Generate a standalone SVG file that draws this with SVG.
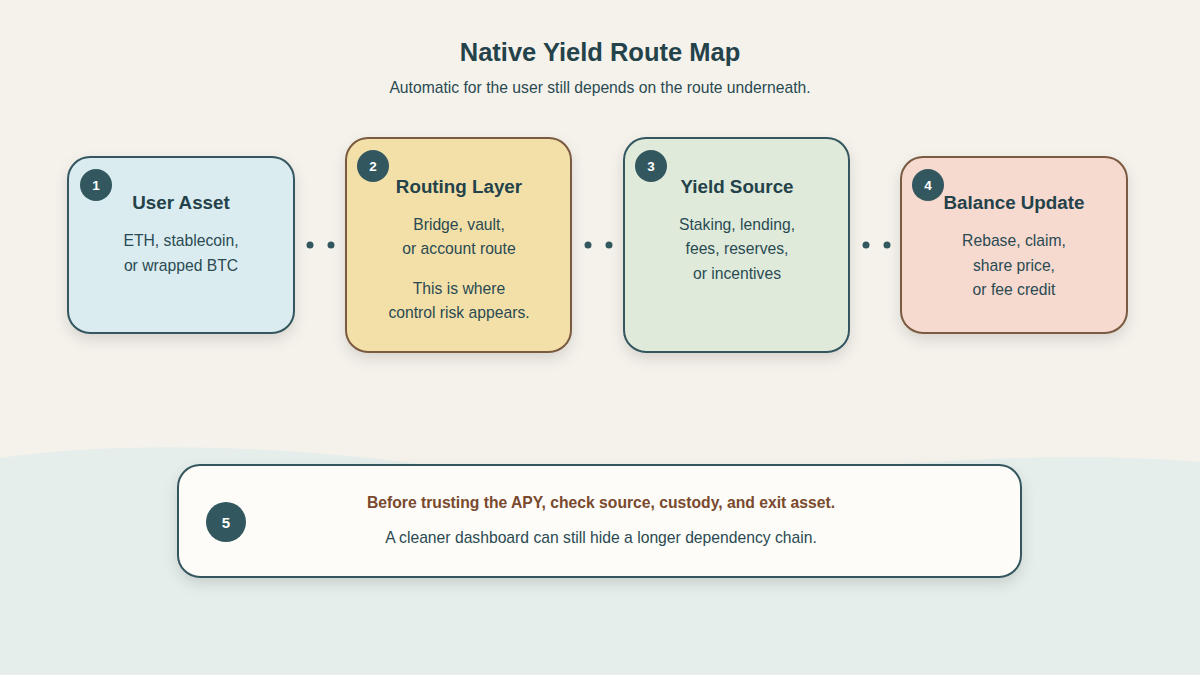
<svg xmlns="http://www.w3.org/2000/svg" width="1200" height="675" viewBox="0 0 1200 675">
<defs>
<filter id="sh" x="-20%" y="-20%" width="140%" height="150%"><feDropShadow dx="0" dy="6" stdDeviation="7" flood-color="#000" flood-opacity="0.12"/></filter>
<style>
text{font-family:"Liberation Sans",Arial,sans-serif;text-anchor:middle;fill:#2a4a52}
.t{font-size:18.8px;font-weight:bold;fill:#24424a}
.b{font-size:15.7px}
.n{font-size:13.5px;font-weight:bold;fill:#fff}
.box{stroke-width:2}
.bd{fill:#33575f}
.dot{fill:#33575f}
</style>
</defs>
<rect width="1200" height="675" fill="#f5f2ec"/>
<path d="M0 458 C120 440 300 445 460 470 C700 500 950 440 1200 462 L1200 675 L0 675 Z" fill="#e5eeeb"/>
<text x="600" y="61" style="font-size:25.5px;font-weight:bold;fill:#24424a">Native Yield Route Map</text>
<text x="600" y="93" class="b">Automatic for the user still depends on the route underneath.</text>
<g id="connectors">
<circle class="dot" cx="310" cy="245" r="3.5"/><circle class="dot" cx="331" cy="245" r="3.5"/>
<circle class="dot" cx="588" cy="245" r="3.5"/><circle class="dot" cx="609" cy="245" r="3.5"/>
<circle class="dot" cx="866" cy="245" r="3.5"/><circle class="dot" cx="887" cy="245" r="3.5"/>
</g>
<g id="n1">
<rect class="box" x="68" y="157" width="226" height="176" rx="22" fill="#daecf0" stroke="#34575f" filter="url(#sh)"/>
<circle class="bd" cx="96" cy="185" r="16"/><text class="n" x="96" y="190">1</text>
<text class="t" x="181" y="209">User Asset</text>
<text class="b" x="181" y="246">ETH, stablecoin,</text>
<text class="b" x="181" y="271">or wrapped BTC</text>
</g>
<g id="n2">
<rect class="box" x="346" y="138" width="225" height="214" rx="22" fill="#f3e0a9" stroke="#7a5a40" filter="url(#sh)"/>
<circle class="bd" cx="373" cy="166" r="16"/><text class="n" x="373" y="171">2</text>
<text class="t" x="459" y="193">Routing Layer</text>
<text class="b" x="459" y="230">Bridge, vault,</text>
<text class="b" x="459" y="254">or account route</text>
<text class="b" x="459" y="294">This is where</text>
<text class="b" x="459" y="318">control risk appears.</text>
</g>
<g id="n3">
<rect class="box" x="624" y="138" width="225" height="214" rx="22" fill="#dfeadb" stroke="#34575f" filter="url(#sh)"/>
<circle class="bd" cx="651" cy="166" r="16"/><text class="n" x="651" y="171">3</text>
<text class="t" x="737" y="193">Yield Source</text>
<text class="b" x="737" y="230">Staking, lending,</text>
<text class="b" x="737" y="254">fees, reserves,</text>
<text class="b" x="737" y="279">or incentives</text>
</g>
<g id="n4">
<rect class="box" x="901" y="157" width="226" height="176" rx="22" fill="#f6d9cf" stroke="#7a5a40" filter="url(#sh)"/>
<circle class="bd" cx="928" cy="185" r="16"/><text class="n" x="928" y="190">4</text>
<text class="t" x="1014" y="209">Balance Update</text>
<text class="b" x="1014" y="246">Rebase, claim,</text>
<text class="b" x="1014" y="271">share price,</text>
<text class="b" x="1014" y="295">or fee credit</text>
</g>
<g id="n5">
<rect class="box" x="178" y="465" width="843" height="112" rx="22" fill="#fdfcf8" stroke="#34575f" filter="url(#sh)"/>
<circle class="bd" cx="226" cy="522" r="20"/><text class="n" x="226" y="528" style="font-size:15px">5</text>
<text x="601" y="508" style="font-size:15.7px;font-weight:bold;fill:#7a4a2e">Before trusting the APY, check source, custody, and exit asset.</text>
<text class="b" x="601" y="543">A cleaner dashboard can still hide a longer dependency chain.</text>
</g>
</svg>
